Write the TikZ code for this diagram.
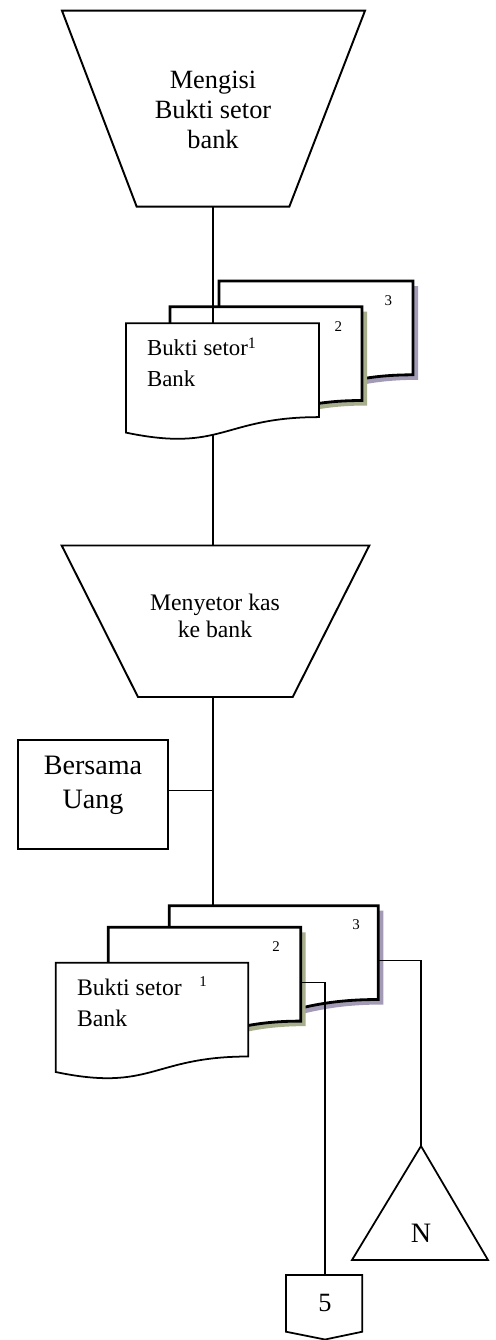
\documentclass[tikz,border=0pt]{standalone}
\usepackage{fontspec}
\setmainfont{Liberation Serif}

\definecolor{bayangungu}{RGB}{163,155,181}
\definecolor{bayanghijau}{RGB}{166,174,140}

\tikzset{
  garis/.style={line width=0.8pt},
  proses/.style={draw, line width=1.1pt},
  kotak/.style={draw, line width=1.1pt, minimum width=3cm, minimum height=2.18cm},
  tebal/.style={line width=1.6pt},
  tipis/.style={line width=1pt},
  angka/.style={inner sep=0pt, font=\fontsize{8.5}{9}\selectfont},
  teksdok/.style={inner sep=0pt, anchor=base west, align=left, font=\fontsize{13}{17.6}\selectfont},
}

% dokumen: nama, pojok kiri atas, lebar, bayangan, garis
\newcommand{\dokumen}[5]{%
  \begin{scope}[shift={#2}]
    \path[#4, shift={(5,5)}] (0,0) -- (#3,0) -- (#3,93.8)
      .. controls ({#3/2},93.8) and ({#3/2},129.5) .. (0,109.3) -- cycle;
    \draw[#5, fill=white] (0,0) coordinate (#1) -- (#3,0) -- (#3,93.8)
      .. controls ({#3/2},93.8) and ({#3/2},129.5) .. coordinate[pos=0.55] (#1-s) (0,109.3) -- cycle;
    \coordinate (#1-e) at (#3,55);
  \end{scope}
}

\begin{document}
\begin{tikzpicture}[x=0.02cm, y=-0.02cm]
  \useasboundingbox (0,0) rectangle (496,1340);

  % mengisi bukti setor
  \draw[proses] (62,10.7) -- (365,10.7) -- (289.3,206.7) -- (136.7,206.7) -- cycle;
  \coordinate (isi-s) at (213,206.7);
  \node[align=center, font=\fontsize{15}{17}\selectfont] (isi) at (213,110) {Mengisi\\Bukti setor\\bank};

  % bukti setor bank (atas)
  \dokumen{da3}{(219,281)}{194}{fill=bayangungu}{tebal}
  \dokumen{da2}{(170,306.7)}{192}{fill=bayanghijau}{tebal}
  \dokumen{da1}{(126,323.3)}{193}{fill=none}{tipis}
  \node[teksdok] (bsa) at (146.7,386.7) {Bukti setor\textsuperscript{1}\\Bank};
  \node[angka] (da2n) at (338.3,326.7) {2};
  \node[angka] (da3n) at (388.3,300.7) {3};
  \draw[garis] (isi-s) -- (isi-s |- da1);

  % menyetor kas
  \draw[proses] (61.7,545.5) -- (369.3,545.5) -- (292.7,697) -- (138,697) -- cycle;
  \coordinate (setor-n) at (213,545.5);
  \coordinate (setor-s) at (213,697);
  \node[align=center, font=\fontsize{13.5}{15.4}\selectfont] (setor) at (215,616) {Menyetor kas\\ke bank};
  \draw[garis] (setor-n) -- (setor-n |- da1-s);

  % bersama uang
  \node[kotak] (kotak) at (93,794.5) {};
  \node[align=center, font=\fontsize{16}{19.3}\selectfont] (uang) at (93,785) {Bersama\\Uang};

  % bukti setor bank (bawah)
  \dokumen{db3}{(169.3,905.7)}{209}{fill=bayangungu}{tebal}
  \dokumen{db2}{(108.3,927.3)}{192.4}{fill=bayanghijau}{tebal}
  \dokumen{db1}{(55.7,962.7)}{192.6}{fill=none}{tipis}
  \node[teksdok, font=\fontsize{13.5}{17.6}\selectfont] (bsb) at (76.7,1026.7) {Bukti setor\\Bank};
  \node[angka] (db1n) at (203,981.7) {1};
  \node[angka] (db2n) at (276,946.7) {2};
  \node[angka] (db3n) at (356,925) {3};
  \draw[garis] (setor-s) -- (setor-s |- db3);
  \draw[garis] ([yshift=0.08cm]kotak.east) -- ([yshift=0.08cm]kotak.east -| setor-s);

  % arsip N
  \coordinate (segitiga) at (421,1146);
  \draw[line width=1pt] (segitiga) -- (488,1260) -- (352,1260) -- cycle;
  \node[font=\fontsize{16}{16}\selectfont] (N) at (421,1233) {N};
  \draw[garis] (db3-e) -| (segitiga);

  % penghubung halaman 5
  \coordinate (lima-n) at (325,1275);
  \draw[line width=1pt] (286,1275) -- (362.3,1275) -- (362.3,1331.7) -- (325,1339.5) -- (286,1331.7) -- cycle;
  \node[font=\fontsize{15}{15}\selectfont] (lima) at (325,1303) {5};
  \draw[garis] (db2-e) -| (lima-n);
\end{tikzpicture}
\end{document}
